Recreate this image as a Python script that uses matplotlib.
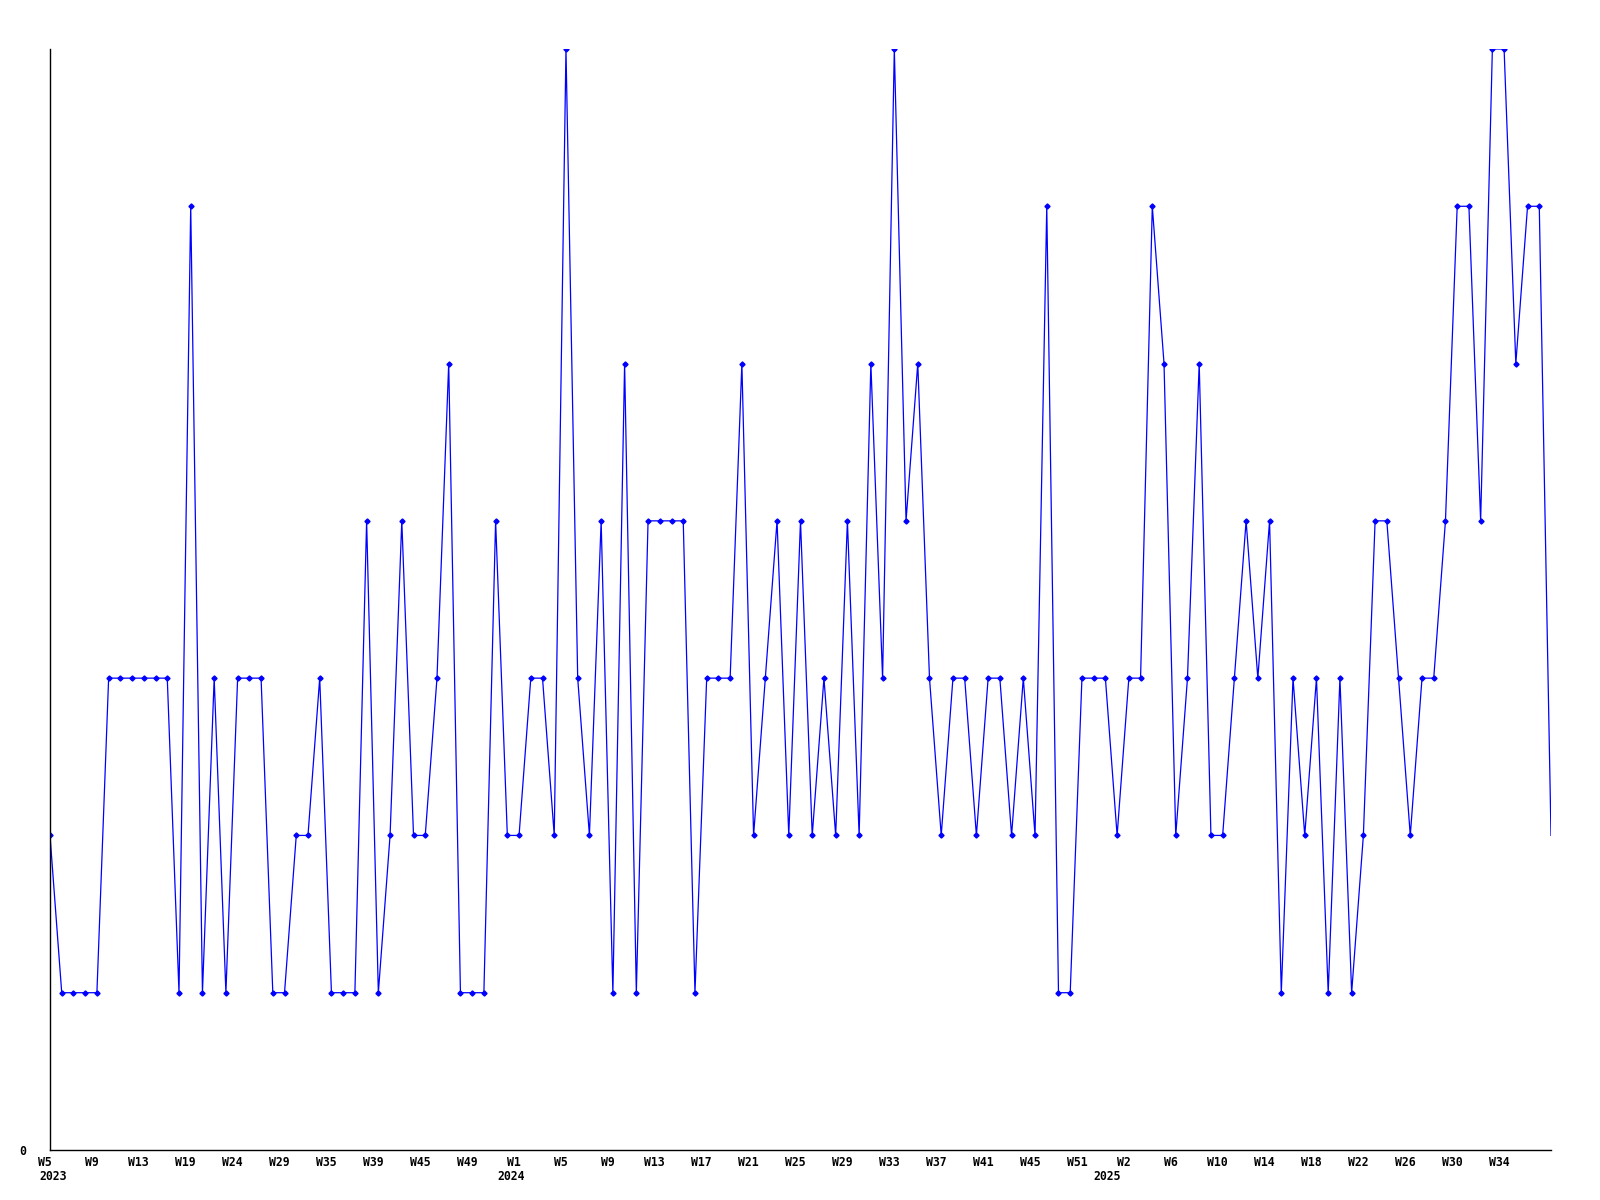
import matplotlib
matplotlib.use("Agg")
import matplotlib.pyplot as plt
from matplotlib.transforms import blended_transform_factory, ScaledTranslation

values = [2, 1, 1, 1, 1, 3, 3, 3, 3, 3, 3, 1, 6, 1, 3, 1, 3, 3, 3, 1,
          1, 2, 2, 3, 1, 1, 1, 4, 1, 2, 4, 2, 2, 3, 5, 1, 1, 1, 4, 2,
          2, 3, 3, 2, 7, 3, 2, 4, 1, 5, 1, 4, 4, 4, 4, 1, 3, 3, 3, 5,
          2, 3, 4, 2, 4, 2, 3, 2, 4, 2, 5, 3, 7, 4, 5, 3, 2, 3, 3, 2,
          3, 3, 2, 3, 2, 6, 1, 1, 3, 3, 3, 2, 3, 3, 6, 5, 2, 3, 5, 2,
          2, 3, 4, 3, 4, 1, 3, 2, 3, 1, 3, 1, 2, 4, 4, 3, 2, 3, 3, 4,
          6, 6, 4, 7, 7, 5, 6, 6, 2]

week_labels = ["W5", "W9", "W13", "W19", "W24", "W29", "W35", "W39", "W45", "W49",
               "W1", "W5", "W9", "W13", "W17", "W21", "W25", "W29", "W33", "W37",
               "W41", "W45", "W51",
               "W2", "W6", "W10", "W14", "W18", "W22", "W26", "W30", "W34"]
year_labels = ["2023", "2024", "2025"]
year_label_anchor = [0.25, 39.3, 90.15]
label_step = 4

fig = plt.figure(figsize=(16, 12), dpi=100)
ax = fig.add_axes([50/1600, 50/1200, (1551-50)/1600, (1150-49)/1200])

x = list(range(len(values)))
ax.plot(x, values, color="#0000ff", linewidth=0.9, marker="D", markersize=2.6,
        markerfacecolor="#0000ff", markeredgecolor="#0000ff",
        markevery=slice(0, len(values) - 1))

ax.set_xlim(0, len(values) - 1)
ax.set_ylim(0, 7)
for s in ["top", "right"]:
    ax.spines[s].set_visible(False)
for s in ["left", "bottom"]:
    ax.spines[s].set_color("black")
    ax.spines[s].set_linewidth(1.0)

font = dict(family="DejaVu Sans Mono", weight="bold", size=8.3)

tick_pos = [i * label_step for i in range(len(week_labels))]
ax.set_xticks(tick_pos)
ax.set_xticklabels(week_labels, **font)
ax.tick_params(axis="x", length=0, pad=4)
shift = ScaledTranslation(-5/100, 0, fig.dpi_scale_trans)
for lbl in ax.get_xticklabels():
    lbl.set_transform(lbl.get_transform() + shift)

ax.set_yticks([0])
ax.set_yticklabels(["0"], **font)
ax.tick_params(axis="y", length=0, pad=17)

trans = blended_transform_factory(ax.transData, ax.transAxes)
for lab, pos in zip(year_labels, year_label_anchor):
    ax.text(pos, -0.0245, lab, transform=trans, ha="center", va="center", **font)

fig.savefig("out.png", dpi=100, facecolor="white")
